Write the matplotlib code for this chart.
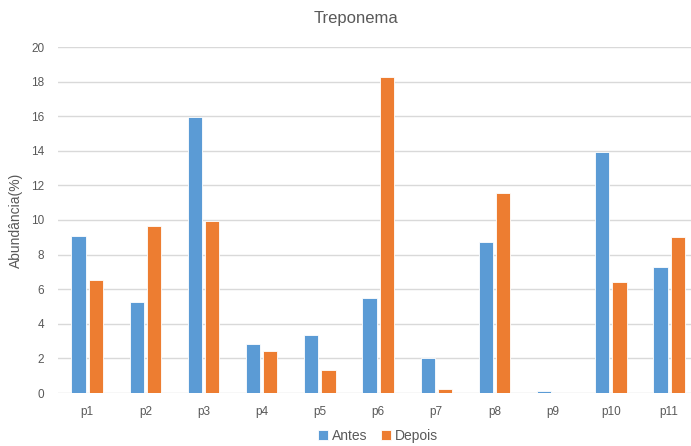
import numpy as np
import matplotlib
matplotlib.use('Agg')
import matplotlib.pyplot as plt

# abundance per patient, before and after
patients = ['p1', 'p2', 'p3', 'p4', 'p5', 'p6', 'p7', 'p8', 'p9', 'p10', 'p11']
antes = [9.05, 5.24, 15.93, 2.83, 3.35, 5.49, 2.04, 8.75, 0.1, 13.95, 7.28]
depois = [6.51, 9.67, 9.94, 2.40, 1.31, 18.24, 0.25, 11.56, 0.0, 6.42, 9.0]
yticks = list(range(0, 21, 2))

plt.rcParams['font.family'] = ['Liberation Sans', 'DejaVu Sans']

blue = '#5B9BD5'
orange = '#ED7D31'
txt = '#595959'

fig = plt.figure(figsize=(6.91, 4.46), dpi=100)
ax = fig.add_axes([58/691, 1-393/446, 633/691, (393-47)/446])

x = np.arange(len(patients))
w = 0.245
ax.bar(x - w/2 - 0.025, antes, w, color=blue, edgecolor='white', linewidth=0.6, label='Antes', zorder=3)
ax.bar(x + w/2 + 0.025, depois, w, color=orange, edgecolor='white', linewidth=0.6, label='Depois', zorder=3)

ax.set_xlim(-0.5, -0.5 + 633/58.2)
ax.set_ylim(0, 20)
ax.set_yticks(yticks)
ax.set_xticks(x)
ax.set_xticklabels(patients)
ax.grid(axis='y', color='#D9D9D9', linewidth=1, zorder=0)
for s in ax.spines.values():
    s.set_visible(False)
ax.tick_params(length=0, colors=txt, labelsize=8.5)
ax.tick_params(axis='x', pad=9)
ax.tick_params(axis='y', pad=10)

ax.set_ylabel('Abundância(%)', color=txt, fontsize=10, labelpad=6)
fig.text(356/691, 1-18/446, 'Treponema', ha='center', va='center', fontsize=12, color=txt)

ax.legend(loc='center', bbox_to_anchor=(378/691, 1-436/446), bbox_transform=fig.transFigure,
          ncol=2, frameon=False, fontsize=10, handlelength=0.7, handleheight=0.7,
          handletextpad=0.3, columnspacing=1.0, labelcolor=txt)

fig.savefig('out.png', dpi=100)
